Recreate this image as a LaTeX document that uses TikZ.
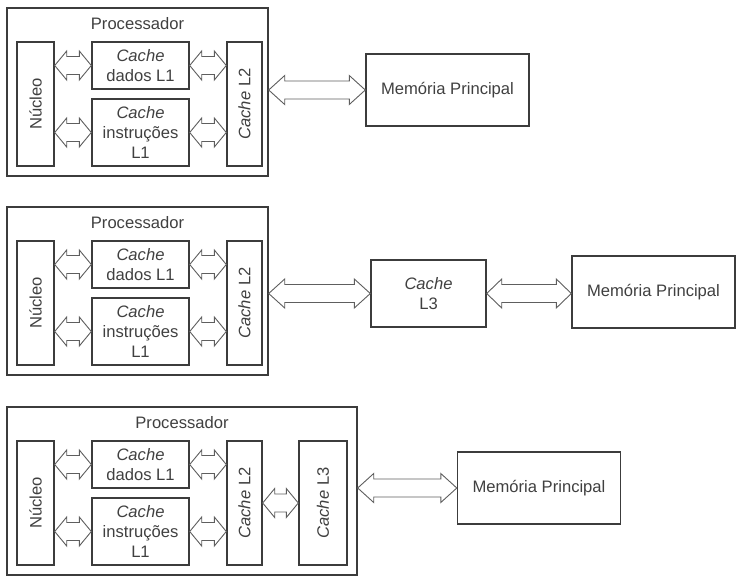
\documentclass[tikz,border=0pt]{standalone}
\usepackage{fontspec}
\setmainfont{Liberation Sans}
\usetikzlibrary{calc}

\definecolor{linegray}{HTML}{3C3C3C}
\definecolor{arrowgray}{HTML}{5E5E5E}
\definecolor{textgray}{HTML}{404040}

% two-headed block arrow between two points on one level
\newcommand{\dblarrow}[3][12pt]{%
  \draw[blockarrow] let \p1=(#2), \p2=(#3) in
    (\x1,\y1) -- ++(#1,14.5pt) -- ++(0pt,-5.5pt) -- (\x2-#1,\y1+9pt) -- ++(0pt,5.5pt)
    -- (\x2,\y1) -- ++(-#1,-14.5pt) -- ++(0pt,5.5pt) -- (\x1+#1,\y1-9pt) -- ++(0pt,-5.5pt) -- cycle;}

\begin{document}
\begin{tikzpicture}[x=1pt, y=-1pt,
  every node/.style={font=\fontsize{16.6}{20}\selectfont, text=textgray},
  box/.style={rectangle, draw=linegray, line width=1.4pt, align=center, inner sep=0pt},
  blockarrow/.style={draw=arrowgray, fill=white, line width=0.9pt, line join=miter}]
			\useasboundingbox (0,0) rectangle (756,587);

			% processador so com L2
			\node[box, minimum width=261pt, minimum height=168pt] (proc1) at (137.5,92) {};
			\node[anchor=base] (tit1) at (137.5,29.5) {Processador};
			\node[box, minimum width=37pt, minimum height=124pt] (nuc1) at (35.5,104) {};
			\node[rotate=90] (nuct1) at (nuc1) {Núcleo};
			\node[box, minimum width=97pt, minimum height=47pt] (dad1) at (140.5,65.5) {\textit{Cache}\\dados L1};
			\node[box, minimum width=97pt, minimum height=67pt] (ins1) at (140.5,132.5) {\textit{Cache}\\instruções\\L1};
			\node[box, minimum width=35pt, minimum height=124pt] (ltwo1) at (244.5,104) {};
			\node[rotate=90] (ltwot1) at (ltwo1) {\textit{Cache} L2};
			\node[box, minimum width=163pt, minimum height=72pt] (mem1) at (447.5,90) {Memória Principal};

			\dblarrow{nuc1.east |- dad1.west}{dad1.west}
			\dblarrow{dad1.east}{dad1.east -| ltwo1.west}
			\dblarrow{nuc1.east |- ins1.west}{ins1.west}
			\dblarrow{ins1.east}{ins1.east -| ltwo1.west}
			\dblarrow[16pt]{proc1.east |- mem1.west}{mem1.west}

			% L3 fora do processador
			\node[box, minimum width=261pt, minimum height=168pt] (proc2) at (137.5,291) {};
			\node[anchor=base] (tit2) at (137.5,228.5) {Processador};
			\node[box, minimum width=37pt, minimum height=124pt] (nuc2) at (35.5,303) {};
			\node[rotate=90] (nuct2) at (nuc2) {Núcleo};
			\node[box, minimum width=97pt, minimum height=47pt] (dad2) at (140.5,264.5) {\textit{Cache}\\dados L1};
			\node[box, minimum width=97pt, minimum height=67pt] (ins2) at (140.5,331.5) {\textit{Cache}\\instruções\\L1};
			\node[box, minimum width=35pt, minimum height=124pt] (ltwo2) at (244.5,303) {};
			\node[rotate=90] (ltwot2) at (ltwo2) {\textit{Cache} L2};
			\node[box, minimum width=115pt, minimum height=67pt] (lthree2) at (428.5,293.5) {\textit{Cache}\\L3};
			\node[box, minimum width=163pt, minimum height=72pt] (mem2) at (653.5,292) {Memória Principal};

			\dblarrow{nuc2.east |- dad2.west}{dad2.west}
			\dblarrow{dad2.east}{dad2.east -| ltwo2.west}
			\dblarrow{nuc2.east |- ins2.west}{ins2.west}
			\dblarrow{ins2.east}{ins2.east -| ltwo2.west}
			\dblarrow[16pt]{proc2.east |- lthree2.west}{lthree2.west}
			\dblarrow[15pt]{lthree2.east}{lthree2.east -| mem2.west}

			% L3 dentro do processador
			\node[box, minimum width=350pt, minimum height=168pt] (proc3) at (182,491) {};
			\node[anchor=base] (tit3) at (182,428.5) {Processador};
			\node[box, minimum width=37pt, minimum height=124pt] (nuc3) at (35.5,503) {};
			\node[rotate=90] (nuct3) at (nuc3) {Núcleo};
			\node[box, minimum width=97pt, minimum height=47pt] (dad3) at (140.5,464.5) {\textit{Cache}\\dados L1};
			\node[box, minimum width=97pt, minimum height=67pt] (ins3) at (140.5,531.5) {\textit{Cache}\\instruções\\L1};
			\node[box, minimum width=35pt, minimum height=124pt] (ltwo3) at (244.5,503) {};
			\node[rotate=90] (ltwot3) at (ltwo3) {\textit{Cache} L2};
			\node[box, minimum width=48pt, minimum height=124pt] (lthree3) at (323,503) {};
			\node[rotate=90] (lthreet3) at (lthree3) {\textit{Cache} L3};
			\node[box, minimum width=163pt, minimum height=72pt] (mem3) at (539,488) {Memória Principal};

			\dblarrow{nuc3.east |- dad3.west}{dad3.west}
			\dblarrow{dad3.east}{dad3.east -| ltwo3.west}
			\dblarrow{nuc3.east |- ins3.west}{ins3.west}
			\dblarrow{ins3.east}{ins3.east -| ltwo3.west}
			\dblarrow{ltwo3.east}{ltwo3.east -| lthree3.west}
			\dblarrow[16pt]{proc3.east |- mem3.west}{mem3.west}
\end{tikzpicture}
\end{document}
